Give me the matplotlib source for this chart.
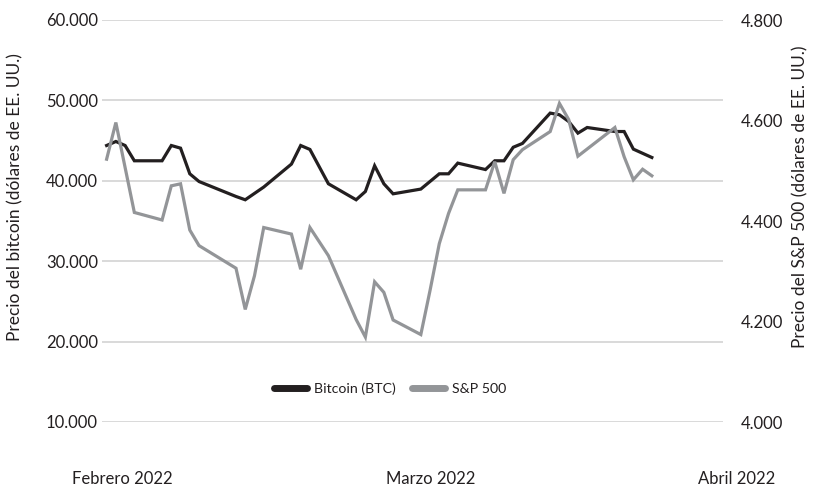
import matplotlib
matplotlib.use("Agg")
import matplotlib.pyplot as plt
import matplotlib.dates as mdates
from matplotlib.lines import Line2D
from datetime import date, timedelta

plt.rcParams['font.family'] = ['Lato', 'DejaVu Sans']

start = date(2022, 2, 1)

btc_days = [0, 1, 2, 3, 6, 7, 8, 9, 10, 14, 15, 17, 20, 21, 22, 24, 27, 28, 29, 30,
            31, 34, 36, 37, 38, 41, 42, 43, 44, 45, 48, 49, 50, 51, 52, 55, 56, 57, 59]
btc_values = [44390, 44890, 44390, 42490, 42490, 44390, 44060, 40870, 39910, 38050,
              37640, 39220, 42080, 44390, 43900, 39630, 37640, 38670, 41870, 39630,
              38380, 38970, 40870, 40870, 42200, 41400, 42490, 42490, 44170, 44650,
              48420, 48210, 47380, 45930, 46630, 46130, 46130, 43940, 42900]

sp_days = [0, 1, 3, 6, 7, 8, 9, 10, 14, 15, 16, 17, 20, 21, 22, 24, 27, 28, 29, 30,
           31, 34, 35, 36, 37, 38, 41, 42, 43, 44, 45, 48, 49, 50, 51, 55, 56, 57, 58, 59]
sp_values = [4523, 4596, 4417, 4402, 4470, 4474, 4382, 4351, 4306, 4224, 4291, 4387,
             4374, 4304, 4387, 4331, 4204, 4169, 4279, 4258, 4203, 4174, 4262, 4355,
             4415, 4462, 4462, 4518, 4455, 4522, 4542, 4578, 4634, 4602, 4529, 4586,
             4528, 4482, 4503, 4490]

left_ticks = [10000, 20000, 30000, 40000, 50000, 60000]
right_ticks = [4000, 4200, 4400, 4600, 4800]
month_labels = ["Febrero 2022", "Marzo 2022", "Abril 2022"]

btc_dates = [start + timedelta(days=d) for d in btc_days]
sp_dates = [start + timedelta(days=d) for d in sp_days]

def fmt(v):
    return f"{v:,.0f}".replace(",", ".")

W, H = 813, 491
fig = plt.figure(figsize=(W / 100, H / 100), dpi=100)
ax = fig.add_axes([102 / W, 1 - 422 / H, (723 - 102) / W, (422 - 20) / H])
ax2 = ax.twinx()

c_btc = '#231f20'
c_sp = '#939598'
c_txt = '#231f20'

ax.plot(btc_dates, btc_values, color=c_btc, lw=2.3, zorder=3, solid_joinstyle='miter')
ax2.plot(sp_dates, sp_values, color=c_sp, lw=2.3, zorder=2, solid_joinstyle='miter')

x0 = mdates.date2num(start)
ax.set_xlim(x0 - 0.5, x0 + 66.7)
ax.set_ylim(10000, 60000)
ax2.set_ylim(4000, 4800)

ax.set_yticks(left_ticks)
ax.set_yticklabels([fmt(v) for v in left_ticks])
ax2.set_yticks(right_ticks)
ax2.set_yticklabels([fmt(v) for v in right_ticks])

ax.yaxis.grid(True, color='#d9d9d9', lw=1.4)
ax.set_axisbelow(True)
ax.set_xticks([])
for a in (ax, ax2):
    for s in a.spines.values():
        s.set_visible(False)
ax.tick_params(axis='y', length=0, pad=3, labelsize=12, labelcolor=c_txt)
ax2.tick_params(axis='y', length=0, pad=13, labelsize=12, labelcolor=c_txt)

for xf, lab in zip([0.0322, 0.530, 1.0225], month_labels):
    ax.text(xf, -0.142, lab, transform=ax.transAxes, ha='center', va='center',
            fontsize=12, color=c_txt)

fig.text(15 / W, 1 - 197 / H, "Precio del bitcoin (dólares de EE. UU.)", rotation=90,
         ha='center', va='center', fontsize=12.5, color=c_txt)
fig.text(800 / W, 1 - 197 / H, "Precio del S&P 500 (dólares de EE. UU.)", rotation=90,
         ha='center', va='center', fontsize=12.5, color=c_txt)

handles = [Line2D([], [], color=c_btc, lw=5, solid_capstyle='round'),
           Line2D([], [], color=c_sp, lw=5, solid_capstyle='round')]
leg = ax.legend(handles, ["Bitcoin (BTC)", "S&P 500"], loc='center',
                bbox_to_anchor=(0.464, 0.082), ncol=2, frameon=False,
                fontsize=10.2, handlelength=2.3, handletextpad=0.5, columnspacing=1.2)
for t in leg.get_texts():
    t.set_color(c_txt)

fig.savefig("out.png", dpi=100)
